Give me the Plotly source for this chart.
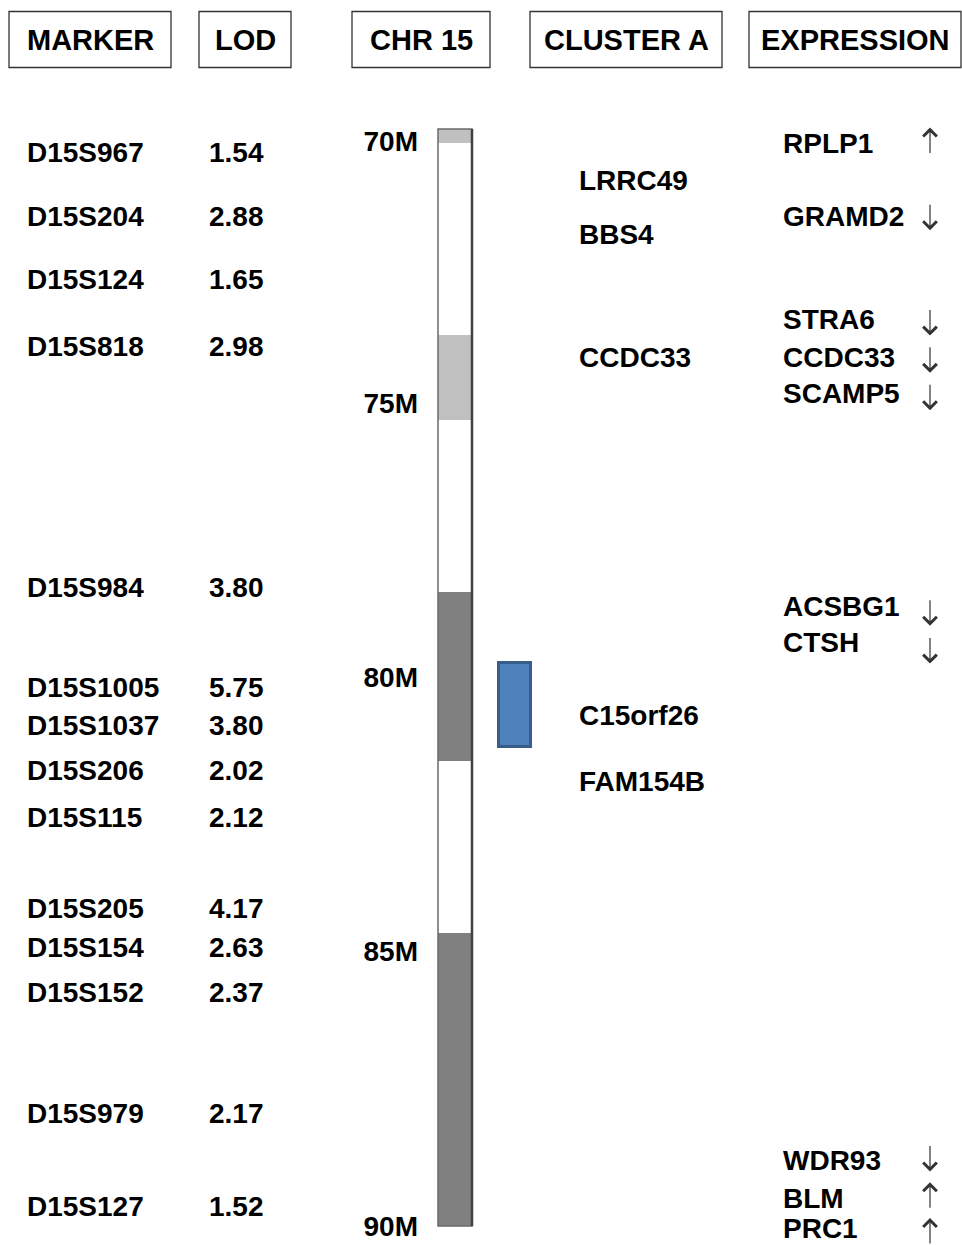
import plotly.graph_objects as go

# ---------------- data ----------------
markers = ["D15S967", "D15S204", "D15S124", "D15S818", "D15S984", "D15S1005", "D15S1037",
           "D15S206", "D15S115", "D15S205", "D15S154", "D15S152", "D15S979", "D15S127"]
marker_pos = [70.42, 71.59, 72.75, 73.97, 78.35, 80.19, 80.87, 81.70, 82.56, 84.22, 84.93,
              85.75, 87.94, 89.64]
lod = ["1.54", "2.88", "1.65", "2.98", "3.80", "5.75", "3.80", "2.02", "2.12", "4.17", "2.63",
       "2.37", "2.17", "1.52"]

band_start = [70.0, 70.255, 73.756, 75.305, 78.441, 81.52, 84.66]
band_end = [70.255, 73.756, 75.305, 78.441, 81.52, 84.66, 90.0]
band_stain = ["gpos25", "gneg", "gpos25", "gneg", "gpos75", "gneg", "gpos75"]

mb_ticks = [70, 75, 80, 85, 90]

cluster_region = [79.736, 81.267]
cluster_genes = ["LRRC49", "BBS4", "CCDC33", "C15orf26", "FAM154B"]
cluster_pos = [70.93, 71.93, 74.16, 80.70, 81.89]

expr_genes = ["RPLP1", "GRAMD2", "STRA6", "CCDC33", "SCAMP5", "ACSBG1", "CTSH", "WDR93", "BLM", "PRC1"]
expr_pos = [70.26, 71.60, 73.48, 74.16, 74.83, 78.70, 79.37, 88.81, 89.49, 90.04]
expr_dir = ["up", "down", "down", "down", "down", "down", "down", "down", "up", "up"]
arrow_pos = [70.22, 71.60, 73.52, 74.20, 74.88, 78.81, 79.50, 88.76, 89.45, 90.10]

headers = ["MARKER", "LOD", "CHR 15", "CLUSTER A", "EXPRESSION"]

# ---------------- styling ----------------
W, H = 962, 1245
TOP_PX, BOT_PX = 129, 1226
px_per_mb = (BOT_PX - TOP_PX) / (mb_ticks[-1] - mb_ticks[0])
y_top = mb_ticks[0] - TOP_PX / px_per_mb
y_bot = mb_ticks[-1] + (H - BOT_PX) / px_per_mb
TEXT_DY = 2.5 / px_per_mb
ARROW_HALF = 13.5 / px_per_mb

stain_color = {"gneg": "#ffffff", "gpos25": "#c0c0c0", "gpos75": "#808080"}
FONT = "Liberation Sans"
X_CHR_L, X_CHR_R = 438, 472
X_CLU_L, X_CLU_R = 499, 531

fig = go.Figure()

# chromosome bands
fig.add_trace(go.Bar(
    x=[(X_CHR_L + X_CHR_R) / 2] * len(band_start),
    y=[e - s for s, e in zip(band_start, band_end)],
    base=band_start,
    width=X_CHR_R - X_CHR_L,
    marker=dict(color=[stain_color[s] for s in band_stain], line=dict(width=0)),
    hoverinfo="skip", showlegend=False,
))

# cluster A region
fig.add_trace(go.Bar(
    x=[(X_CLU_L + X_CLU_R) / 2],
    y=[cluster_region[1] - cluster_region[0]],
    base=[cluster_region[0]],
    width=X_CLU_R - X_CLU_L,
    marker=dict(color="#4F81BD", line=dict(color="#385D8A", width=3)),
    hoverinfo="skip", showlegend=False,
))

# chromosome outline
fig.add_shape(type="rect", xref="x", yref="y", x0=X_CHR_L, x1=X_CHR_R,
              y0=mb_ticks[0], y1=mb_ticks[-1], line=dict(color="#6a6a6a", width=1.5))
fig.add_shape(type="line", xref="x", yref="y", x0=X_CHR_R, x1=X_CHR_R,
              y0=mb_ticks[0], y1=mb_ticks[-1], line=dict(color="#404040", width=2.5))

tf = dict(family=FONT, size=28, color="black", weight="bold")


def shifted(vals):
    return [v + TEXT_DY for v in vals]


# markers & LOD
fig.add_trace(go.Scatter(x=[27] * len(markers), y=shifted(marker_pos), text=markers, mode="text",
                         textposition="middle right", textfont=tf, hoverinfo="skip", showlegend=False))
fig.add_trace(go.Scatter(x=[209] * len(lod), y=shifted(marker_pos), text=lod, mode="text",
                         textposition="middle right", textfont=tf, hoverinfo="skip", showlegend=False))

# Mb labels
fig.add_trace(go.Scatter(x=[418] * len(mb_ticks),
                         y=shifted([v + (0.22 if v == mb_ticks[0] else 0) for v in mb_ticks]),
                         text=[f"{v}M" for v in mb_ticks], mode="text",
                         textposition="middle left", textfont=tf, hoverinfo="skip", showlegend=False))

# cluster genes
fig.add_trace(go.Scatter(x=[579] * len(cluster_genes), y=shifted(cluster_pos), text=cluster_genes,
                         mode="text", textposition="middle right", textfont=tf,
                         hoverinfo="skip", showlegend=False))

# expression genes
fig.add_trace(go.Scatter(x=[783] * len(expr_genes), y=shifted(expr_pos), text=expr_genes, mode="text",
                         textposition="middle right", textfont=tf, hoverinfo="skip", showlegend=False))

# expression arrows (drawn in data coordinates)
for p, d in zip(arrow_pos, expr_dir):
    head = p - ARROW_HALF if d == "up" else p + ARROW_HALF
    tail = p + ARROW_HALF if d == "up" else p - ARROW_HALF
    fig.add_annotation(x=930, y=head, ax=930, ay=tail, xref="x", yref="y", axref="x", ayref="y",
                       text="", showarrow=True, arrowhead=4, arrowsize=2.2, arrowwidth=1.2,
                       arrowcolor="#333333", standoff=0, startstandoff=0)

# header boxes
box_x = [(9, 171), (199, 291), (352, 490), (530, 722), (749, 961)]
for (x0, x1), label in zip(box_x, headers):
    fig.add_shape(type="rect", xref="x", yref="paper", x0=x0, x1=x1,
                  y0=1 - 67.5 / H, y1=1 - 11.5 / H, line=dict(color="#333333", width=1.3),
                  fillcolor="rgba(0,0,0,0)")
    fig.add_annotation(x=(x0 + x1) / 2, y=1 - 40 / H, xref="x", yref="paper", text=label,
                       showarrow=False, font=dict(family=FONT, size=29, color="black", weight="bold"),
                       xanchor="center", yanchor="middle")

fig.update_layout(
    width=W, height=H, autosize=False,
    margin=dict(l=0, r=0, t=0, b=0),
    paper_bgcolor="white", plot_bgcolor="white",
    barmode="overlay", bargap=0,
    xaxis=dict(range=[0, W], visible=False, fixedrange=True),
    yaxis=dict(range=[y_bot, y_top], visible=False, fixedrange=True),
)

fig.write_html("out.html", config={"displayModeBar": False},
               post_script="document.body.style.margin='0px';document.body.style.overflow='hidden';")
